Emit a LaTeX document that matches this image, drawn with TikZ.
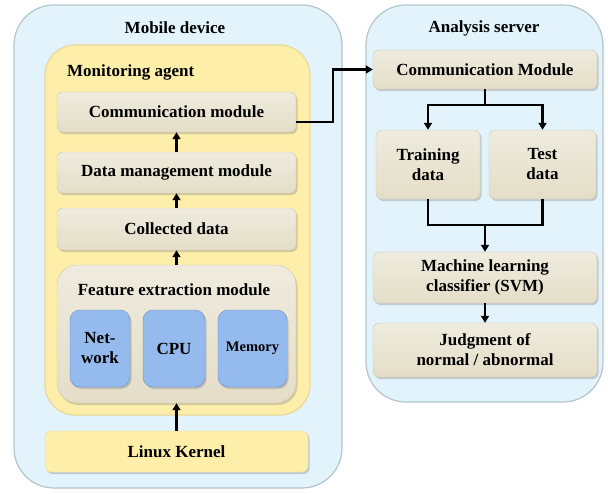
\documentclass[tikz,border=0pt]{standalone}
\usepackage{fontspec}
\setmainfont{Liberation Serif}
\usepackage{tikz}
\usetikzlibrary{arrows.meta,shadows}

\definecolor{skyfill}{HTML}{E2F3FB}
\definecolor{skyline}{HTML}{B4C4CC}
\definecolor{agentfill}{HTML}{FDEFAA}
\definecolor{agentline}{HTML}{E8D89A}
\definecolor{beigefill}{HTML}{E4DEC8}
\definecolor{beigeline}{HTML}{CFC8AE}
\definecolor{bluefill}{HTML}{95BAEE}
\definecolor{blueline}{HTML}{6B8CC0}

\begin{document}
\begin{tikzpicture}[
    x=1pt, y=-1pt,
    font=\fontsize{17}{20}\selectfont\bfseries,
    container/.style={rectangle, rounded corners=40pt, draw=skyline, line width=1.2pt, fill=skyfill},
    agentbox/.style={rectangle, rounded corners=30pt, draw=agentline, line width=1.2pt, fill=agentfill},
    modbox/.style={rectangle, rounded corners=6pt, draw=beigeline, fill=beigefill,
        top color=beigefill!60!white, bottom color=beigefill, align=center,
        drop shadow={opacity=.35, shadow xshift=1.5pt, shadow yshift=-2pt}},
    kernelbox/.style={modbox, draw=agentline, top color=agentfill, bottom color=agentfill},
    featbox/.style={modbox, rounded corners=20pt},
    resbox/.style={rectangle, rounded corners=10pt, draw=blueline, fill=bluefill, align=center,
        drop shadow={opacity=.35, shadow xshift=1.5pt, shadow yshift=-2pt}},
    title/.style={inner sep=0pt},
    arrow/.style={-{Triangle[length=7pt,width=8pt]}, line width=2.8pt}
]
\useasboundingbox (0,0) rectangle (608,493);

% mobile device side
\node[container, minimum width=328pt, minimum height=483pt] (mobile) at (178,246.5) {};
\node[title] (mobiletitle) at (175,28) {Mobile device};
\node[agentbox, minimum width=265pt, minimum height=370pt] (agent) at (177.5,230) {};
\node[title, anchor=west] (agenttitle) at (67,72) {Monitoring agent};

\node[modbox, minimum width=239pt, minimum height=40pt] (comm) at (176.5,112) {Communication module};
\node[modbox, minimum width=239pt, minimum height=41pt] (datamgmt) at (176.5,172.5) {Data management module};
\node[modbox, minimum width=239pt, minimum height=42pt] (collected) at (176.5,229) {Collected data};
\node[featbox, minimum width=239pt, minimum height=138pt] (feature) at (176.5,334) {};
\node[title] (featuretitle) at (174,290) {Feature extraction module};
\node[resbox, minimum width=60pt, minimum height=77pt] (net) at (100,348.5) {Net-\\work};
\node[resbox, minimum width=62pt, minimum height=77pt] (cpu) at (174,348.5) {CPU};
\node[resbox, minimum width=69pt, minimum height=77pt, font=\fontsize{14.5}{17}\selectfont\bfseries] (mem) at (252.5,348.5) {Memory};
\node[kernelbox, minimum width=263pt, minimum height=41pt] (kernel) at (176.5,451.5) {Linux Kernel};

\draw[arrow] (datamgmt) -- (comm);
\draw[arrow] (collected) -- (datamgmt);
\draw[arrow] (feature) -- (collected);
\draw[arrow] (kernel) -- (feature);

% analysis server side
\node[container, minimum width=237pt, minimum height=397pt] (server) at (484.5,203.5) {};
\node[title] (servertitle) at (484,28) {Analysis server};
\node[modbox, minimum width=224pt, minimum height=39pt] (scomm) at (485,69.5) {Communication Module};
\node[modbox, minimum width=104pt, minimum height=69pt] (training) at (428,164.5) {Training\\data};
\node[modbox, minimum width=107pt, minimum height=69pt] (test) at (542.5,164.5) {Test\\data};
\node[modbox, minimum width=224pt, minimum height=51pt] (ml) at (485,277.5) {Machine learning\\classifier (SVM)};
\node[modbox, minimum width=224pt, minimum height=54pt] (judge) at (485,350) {Judgment of\\normal / abnormal};

\coordinate (jog) at (333,0);
\coordinate (split) at (485,105);
\coordinate (merge) at (485,225);

\draw[arrow] ([yshift=-10pt]comm.east) -| (jog |- scomm.west) -- (scomm.west);
\draw[line width=2.8pt] (scomm.south) -- (split);
\draw[arrow] (split) -| (training.north);
\draw[arrow] (split) -| (test.north);
\draw[line width=2.8pt] (training.south) |- (merge) -| (test.south);
\draw[arrow] (merge) -- (ml.north);
\draw[arrow] (ml) -- (judge);
\end{tikzpicture}
\end{document}
